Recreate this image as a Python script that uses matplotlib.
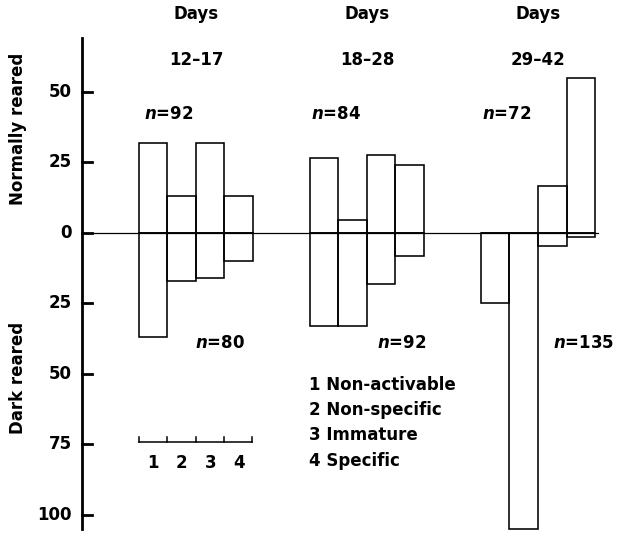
import numpy as np
import matplotlib
matplotlib.use("Agg")
import matplotlib.pyplot as plt

plt.rcParams['font.family'] = ['DejaVu Sans']
plt.rcParams['font.weight'] = 'bold'
plt.rcParams['mathtext.fontset'] = 'custom'
plt.rcParams['mathtext.it'] = 'DejaVu Sans:italic:bold'
plt.rcParams['mathtext.rm'] = 'DejaVu Sans:bold'

# data (percent of cells)
groups = ['12\u201317', '18\u201328', '29\u201342']
normal_n = [92, 84, 72]
dark_n = [80, 92, 135]
normal_vals = [
    [32, 13, 32, 13],
    [26.5, 4.5, 27.5, 24],
    [0, 0, 16.5, 55],
]
dark_vals = [
    [37, 17, 16, 10],
    [33, 33, 18, 8],
    [25, 105, 4.5, 1.5],
]
categories = ['Non-activable', 'Non-specific', 'Immature', 'Specific']
ytick_vals = [50, 25, 0, -25, -50, -75, -100]
ytick_labels = ['50', '25', '0', '25', '50', '75', '100']

fig = plt.figure(figsize=(6.18, 5.33), dpi=100)
ax = fig.add_axes([0, 0, 1, 1])
ax.set_xlim(-4.877, 16.807)
ax.set_ylim(-106.4, 82.6)

fs = 12
lw = 1.15
for g in range(len(groups)):
    xs = np.arange(4) + g * 6
    ax.bar(xs, normal_vals[g], width=1, align='edge', fill=False,
           edgecolor='black', linewidth=lw)
    ax.bar(xs, [-v for v in dark_vals[g]], width=1, align='edge', fill=False,
           edgecolor='black', linewidth=lw)
    cx = g * 6 + 2
    ax.text(cx, 77.5, 'Days', ha='center', va='center', fontsize=fs)
    ax.text(cx, 61.5, groups[g], ha='center', va='center', fontsize=fs)

# n labels
ax.text(1.05, 42, r'$n$=%d' % normal_n[0], ha='center', va='center', fontsize=fs)
ax.text(6.9, 42, r'$n$=%d' % normal_n[1], ha='center', va='center', fontsize=fs)
ax.text(12.9, 42, r'$n$=%d' % normal_n[2], ha='center', va='center', fontsize=fs)
ax.text(2.85, -39, r'$n$=%d' % dark_n[0], ha='center', va='center', fontsize=fs)
ax.text(9.2, -39, r'$n$=%d' % dark_n[1], ha='center', va='center', fontsize=fs)
ax.text(15.6, -39, r'$n$=%d' % dark_n[2], ha='center', va='center', fontsize=fs)

# zero line
ax.plot([-2, 16.1], [0, 0], color='black', lw=0.9)

# left axis
ax.plot([-2, -2], [-105, 69], color='black', lw=2.0)
for v, lab in zip(ytick_vals, ytick_labels):
    ax.plot([-2, -1.65], [v, v], color='black', lw=2.0)
    ax.text(-2.35, v, lab, ha='right', va='center', fontsize=fs)

ax.text(-4.25, 37, 'Normally reared', rotation=90, ha='center', va='center', fontsize=fs)
ax.text(-4.25, -51.5, 'Dark reared', rotation=90, ha='center', va='center', fontsize=fs)

# category scale
ax.plot([0, 3.95], [-74, -74], color='black', lw=1.1)
for i in range(5):
    xt = min(i, 3.95)
    ax.plot([xt, xt], [-74, -72.3], color='black', lw=1.1)
for i in range(4):
    ax.text(i + 0.5, -81.5, str(i + 1), ha='center', va='center', fontsize=fs)

# legend text
for i, c in enumerate(categories):
    ax.text(5.95, -54 - i * 8.9, '%d %s' % (i + 1, c), ha='left', va='center', fontsize=fs)

ax.axis('off')
fig.savefig('out.png', dpi=100)
